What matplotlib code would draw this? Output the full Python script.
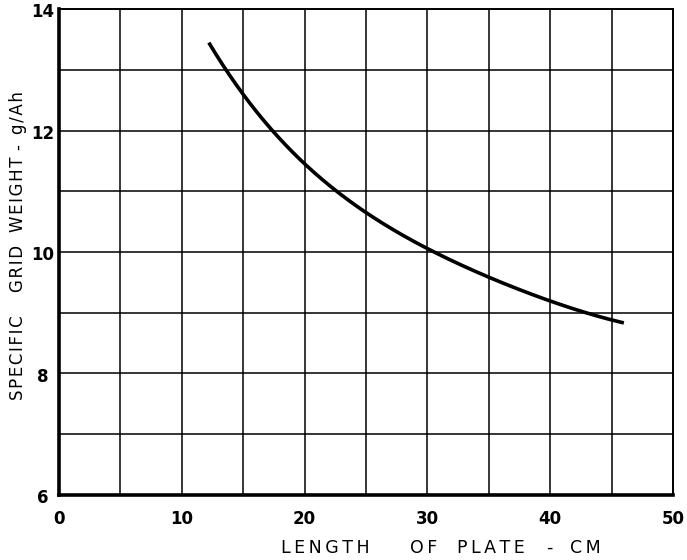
import numpy as np
import matplotlib
matplotlib.use("Agg")
import matplotlib.pyplot as plt

# ---------- data ----------
plate_length = [12.2, 13.5, 15.0, 17.6, 20.0, 22.6, 26.0, 30.2, 35.0, 40.0, 42.7, 46.0]
grid_weight = [13.49, 13.0, 12.53, 12.0, 11.45, 11.0, 10.55, 10.0, 9.57, 9.23, 9.0, 8.83]

x_ticks = [0, 10, 20, 30, 40, 50]
y_ticks = [6, 8, 10, 12, 14]

x_words = ["LENGTH", "OF", "PLATE", "-", "CM"]
y_words = ["SPECIFIC", "GRID", "WEIGHT", "-", "g/Ah"]

plt.rcParams["font.family"] = "DejaVu Sans"


def spaced(word, sep="\u2009"):
    # wide hand lettering -> small gap between letters
    return sep.join(word)


fig = plt.figure(figsize=(6.87, 5.6), dpi=100)
ax = fig.add_axes([0.0859, 0.1161, 0.8937, 0.8678])

# smooth the hand-drawn curve a little
xs = np.linspace(plate_length[0], plate_length[-1], 300)
coef = np.polyfit(plate_length, grid_weight, 4)
ax.plot(xs, np.polyval(coef, xs), color="black", lw=2.6, solid_capstyle="butt", zorder=3)

ax.set_xlim(0, 50)
ax.set_ylim(6, 14)
ax.set_xticks(np.arange(0, 51, 5))
ax.set_yticks(np.arange(6, 14.1, 1))
ax.grid(True, color="black", lw=1.1)
ax.tick_params(length=0, labelbottom=False, labelleft=False)

for side in ["top", "right"]:
    ax.spines[side].set_linewidth(1.4)
for side in ["left", "bottom"]:
    ax.spines[side].set_linewidth(2.6)

for t in x_ticks:
    ax.text(t, 5.6, str(t), ha="center", va="center", fontsize=12, fontweight="bold")
for t in y_ticks:
    ax.text(-1.3, t - 0.05, str(t), ha="center", va="center", fontsize=12, fontweight="bold")

# axis titles, word by word like the hand lettering
x_centres = [325, 424, 491, 549, 585]
for w, cx in zip(x_words, x_centres):
    fig.text(cx / 687, 1 - 548 / 560, spaced(w), ha="center", va="center", fontsize=12.5)

y_centres = [358, 268, 194, 147, 113]
for w, cy in zip(y_words, y_centres):
    fig.text(18 / 687, 1 - cy / 560, spaced(w, "\u200a"), ha="center", va="center",
             fontsize=12, rotation=90)

fig.savefig("out.png", dpi=100)
